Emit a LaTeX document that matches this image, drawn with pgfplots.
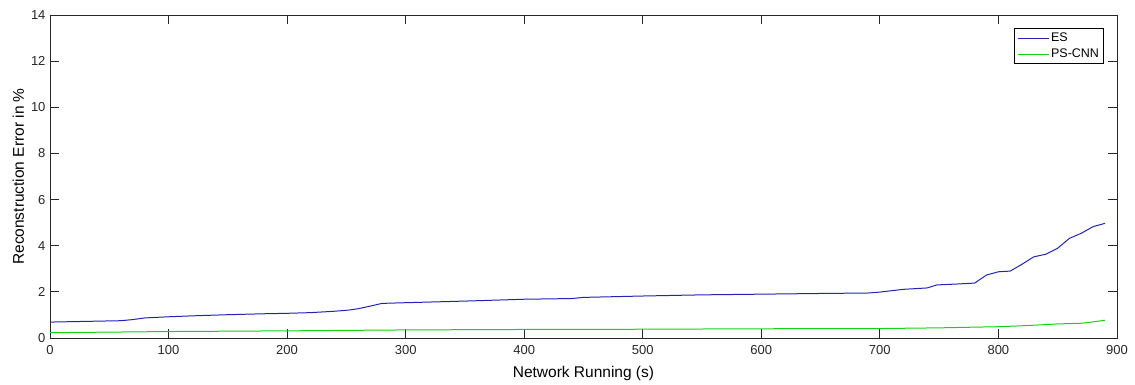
\documentclass[border=0pt]{standalone}
\usepackage{pgfplots}
\pgfplotsset{compat=1.18}
\usepackage{fontspec}
\setmainfont{Liberation Sans}
\definecolor{esblue}{RGB}{35,35,180}
\definecolor{psgreen}{RGB}{20,210,20}
\definecolor{axgray}{RGB}{38,38,38}
\begin{document}
\begin{tikzpicture}[x=1pt,y=1pt]
\begin{axis}[
  at={(0,0)}, anchor=origin,
  scale only axis, width=1067pt, height=323pt,
  xmin=0, xmax=900, ymin=0, ymax=14,
  xtick={0,100,...,900}, ytick={0,2,...,14},
  tick align=inside, major tick length=9pt,
  axis line style={axgray, line width=0.8pt},
  every tick/.style={axgray, line width=0.8pt},
  tick label style={font=\fontsize{13}{15}\selectfont, text=axgray},
  xticklabel style={yshift=-4pt},
  yticklabel style={xshift=-1pt},
  /pgf/number format/assume math mode=true,
  xlabel={Network Running (s)},
  ylabel={Reconstruction Error in \%},
  label style={font=\fontsize{15.5}{17}\selectfont},
  xlabel style={yshift=-5pt},
  ylabel style={yshift=0pt},
  legend style={at={(1,1)}, anchor=north east, xshift=-13pt, yshift=-13pt,
    font=\fontsize{12.5}{14}\selectfont, draw=black, line width=0.8pt,
    inner sep=2.5pt, row sep=2pt},
  legend cell align=left,
  legend image code/.code={\draw[#1, line width=1pt] (0pt,0pt) -- (31pt,0pt);},
]
\addplot[esblue, line width=1pt] coordinates {
(0,0.69) (20,0.71) (40,0.73) (60,0.75) (70,0.80) (80,0.87) (100,0.92) (120,0.96)
(150,1.01) (180,1.05) (200,1.07) (220,1.10) (240,1.16) (252,1.21) (260,1.27)
(270,1.38) (280,1.50) (300,1.53) (350,1.60) (400,1.68) (440,1.71) (450,1.76)
(500,1.82) (550,1.87) (600,1.90) (650,1.93) (690,1.95) (700,1.99) (720,2.11)
(740,2.17) (748,2.30) (765,2.34) (780,2.38) (790,2.73) (800,2.87) (810,2.90)
(820,3.20) (830,3.52) (840,3.63) (850,3.89) (860,4.32) (870,4.54) (880,4.83) (890,4.97)
};
\addlegendentry{ES}
\addplot[psgreen, line width=1pt] coordinates {
(0,0.23) (100,0.28) (200,0.31) (300,0.35) (400,0.37) (500,0.38) (600,0.40)
(700,0.41) (750,0.44) (800,0.49) (820,0.53) (840,0.58) (850,0.61) (870,0.64)
(880,0.70) (890,0.77)
};
\addlegendentry{PS-CNN}
\end{axis}
\useasboundingbox (-50,-45) rectangle (1085,338);
\end{tikzpicture}
\end{document}
